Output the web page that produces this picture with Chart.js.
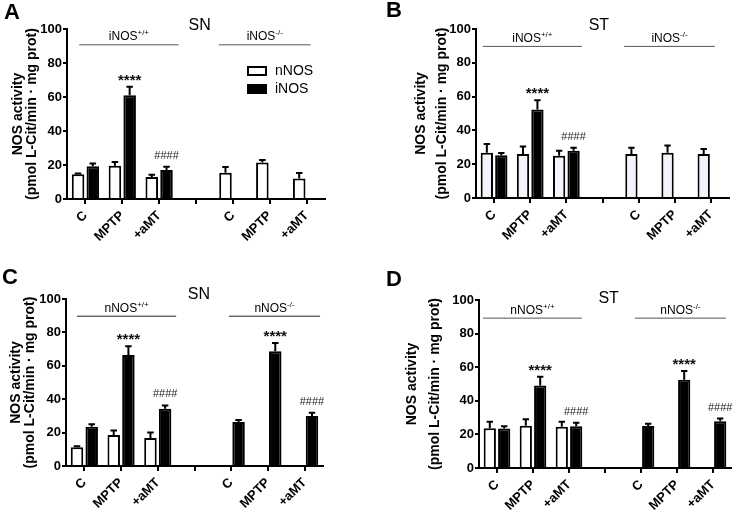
<!DOCTYPE html>
<html>
<head>
<meta charset="utf-8">
<script src="https://cdn.jsdelivr.net/npm/chart.js@4.4.0/dist/chart.umd.min.js"></script>
<style>
  body { margin: 0; background: #fff; }
  #grid { position: relative; width: 738px; height: 512px; }
  .panel { position: absolute; width: 369px; height: 256px; }
</style>
</head>
<body>
<div id="grid">
  <div class="panel" style="left:0;top:0"><canvas id="chartA"></canvas></div>
  <div class="panel" style="left:369px;top:0"><canvas id="chartB"></canvas></div>
  <div class="panel" style="left:0;top:256px"><canvas id="chartC"></canvas></div>
  <div class="panel" style="left:369px;top:256px"><canvas id="chartD"></canvas></div>
</div>
<script>
const CATEGORIES = ['C', 'MPTP', '+aMT', '', 'C', 'MPTP', '+aMT'];
const SERIES = ['nNOS', 'iNOS'];
const Y_TICKS = [0, 20, 40, 60, 80, 100];
const Y_TITLE = ['NOS activity', '(pmol L-Cit/min \u00b7 mg prot)'];

// A - SN, iNOS+/+ vs iNOS-/-
const A_NNOS = [14.5, 19.5, 13, null, 15.5, 21.5, 12];
const A_NNOS_SEM = [0.5, 2.3, 1.3, null, 3.3, 1.5, 3.3];
const A_INOS = [19.3, 61, 17, null, null, null, null];
const A_INOS_SEM = [1.6, 5, 2, null, null, null, null];
const A_MARKS = ['', '****', '####', '', '', '', ''];
const A_GROUPS = ['iNOS', 'iNOS'];

// B - ST, iNOS+/+ vs iNOS-/-
const B_NNOS = [26.8, 26, 25, null, 26, 26.8, 26];
const B_NNOS_SEM = [5.1, 4.5, 3, null, 3.7, 4.2, 3];
const B_INOS = [25.3, 52.3, 28, null, null, null, null];
const B_INOS_SEM = [1.4, 5.5, 1.7, null, null, null, null];
const B_MARKS = ['', '****', '####', '', '', '', ''];
const B_GROUPS = ['iNOS', 'iNOS'];

// C - SN, nNOS+/+ vs nNOS-/-
const C_NNOS = [11.2, 18.5, 16.7, null, null, null, null];
const C_NNOS_SEM = [0.6, 2.8, 3.3, null, null, null, null];
const C_INOS = [23.5, 66.5, 34.3, null, 26.3, 68.7, 30];
const C_INOS_SEM = [1.5, 5.2, 2, null, 1.2, 5, 1.9];
const C_MARKS = ['', '****', '####', '', '', '****', '####'];
const C_GROUPS = ['nNOS', 'nNOS'];

// D - ST, nNOS+/+ vs nNOS-/-
const D_NNOS = [23.7, 25.2, 24.5, null, null, null, null];
const D_NNOS_SEM = [3.9, 3.8, 3.1, null, null, null, null];
const D_INOS = [23.5, 49.1, 24.9, null, 25, 52.5, 27.8];
const D_INOS_SEM = [1.4, 5.2, 2.1, null, 1.4, 5.2, 1.6];
const D_MARKS = ['', '****', '####', '', '', '****', '####'];
const D_GROUPS = ['nNOS', 'nNOS'];

const GENOTYPES = ['+/+', '-/-'];
const FONT = '"Liberation Sans", Arial, Helvetica, sans-serif';

const PANELS = [
  { id: 'chartA', letter: 'A', region: 'SN', nnos: A_NNOS, nnosErr: A_NNOS_SEM, inos: A_INOS, inosErr: A_INOS_SEM,
    marks: A_MARKS, groups: A_GROUPS, legend: true, whiteFill: '#ffffff', lineColor: '#555',
    box: { yw: 67, xh: 57, top: 29, right: 44 }, titleLH: 14, titlePad: 11,
    spans: [[-0.17, 2.53], [3.62, 6.11]], lineVal: 91, letterPos: [4, 19], regionPos: [3.1, -3] },
  { id: 'chartB', letter: 'B', region: 'ST', nnos: B_NNOS, nnosErr: B_NNOS_SEM, inos: B_INOS, inosErr: B_INOS_SEM,
    marks: B_MARKS, groups: B_GROUPS, legend: false, whiteFill: '#f3f3fb', lineColor: '#555',
    box: { yw: 107, xh: 58, top: 29, right: 9 }, titleLH: 21, titlePad: 42,
    spans: [[-0.31, 2.43], [3.6, 6.11]], lineVal: 90, letterPos: [17, 17], regionPos: [2.9, -3] },
  { id: 'chartC', letter: 'C', region: 'SN', nnos: C_NNOS, nnosErr: C_NNOS_SEM, inos: C_INOS, inosErr: C_INOS_SEM,
    marks: C_MARKS, groups: C_GROUPS, legend: false, whiteFill: '#ffffff', lineColor: '#222',
    box: { yw: 66, xh: 46, top: 43, right: 46 }, titleLH: 14, titlePad: 9,
    spans: [[-0.2, 2.5], [3.94, 6.42]], lineVal: 90, letterPos: [2, 28], regionPos: [3.12, -4] },
  { id: 'chartD', letter: 'D', region: 'ST', nnos: D_NNOS, nnosErr: D_NNOS_SEM, inos: D_INOS, inosErr: D_INOS_SEM,
    marks: D_MARKS, groups: D_GROUPS, legend: false, whiteFill: '#ffffff', lineColor: '#555',
    box: { yw: 110, xh: 44, top: 44, right: 7 }, titleLH: 23, titlePad: 32,
    spans: [[-0.39, 2.36], [3.83, 6.36]], lineVal: 89.5, letterPos: [17, 30], regionPos: [3.1, -1] }
];

// error bars, significance marks, group lines, region title, legend, panel letter
const extras = {
  id: 'extras',
  afterDatasetsDraw(chart, args, opts) {
    const p = opts.panel;
    const ctx = chart.ctx;
    const xs = chart.scales.x, ys = chart.scales.y, area = chart.chartArea;
    const catW = (area.right - area.left) / CATEGORIES.length;
    const px = u => xs.getPixelForValue(0) + u * catW;
    ctx.save();

    // error bars (upper only)
    [[p.nnos, p.nnosErr], [p.inos, p.inosErr]].forEach(([vals, errs], d) => {
      const meta = chart.getDatasetMeta(d);
      meta.data.forEach((bar, i) => {
        if (vals[i] == null) return;
        const top = ys.getPixelForValue(vals[i] + errs[i]);
        const half = bar.width * 0.26;
        ctx.strokeStyle = '#000';
        ctx.lineWidth = 2;
        ctx.beginPath();
        ctx.moveTo(bar.x, bar.y);
        ctx.lineTo(bar.x, top);
        ctx.moveTo(bar.x - half, top);
        ctx.lineTo(bar.x + half, top);
        ctx.stroke();
      });
    });

    // significance marks above iNOS bars
    const inosMeta = chart.getDatasetMeta(1);
    p.marks.forEach((m, i) => {
      if (!m) return;
      const bar = inosMeta.data[i];
      const top = ys.getPixelForValue(p.inos[i] + p.inosErr[i]);
      ctx.textAlign = 'center';
      ctx.textBaseline = 'middle';
      if (m[0] === '*') {
        ctx.font = 'bold 15px ' + FONT;
        ctx.fillStyle = '#111';
        ctx.fillText(m, bar.x, top - 6);
      } else {
        ctx.font = '11px ' + FONT;
        ctx.fillStyle = '#222';
        ctx.fillText(m, bar.x, top - 11);
      }
    });

    // genotype group lines with labels
    const ly = ys.getPixelForValue(p.lineVal);
    p.spans.forEach((s, g) => {
      const x0 = px(s[0]), x1 = px(s[1]);
      ctx.strokeStyle = p.lineColor;
      ctx.lineWidth = 1;
      ctx.beginPath();
      ctx.moveTo(x0, ly + 0.5);
      ctx.lineTo(x1, ly + 0.5);
      ctx.stroke();
      ctx.font = '12px ' + FONT;
      const w1 = ctx.measureText(p.groups[g]).width;
      ctx.font = '8px ' + FONT;
      const w2 = ctx.measureText(GENOTYPES[g]).width;
      const sx = (x0 + x1) / 2 - (w1 + w2) / 2;
      ctx.fillStyle = '#000';
      ctx.textAlign = 'left';
      ctx.textBaseline = 'alphabetic';
      ctx.font = '12px ' + FONT;
      ctx.fillText(p.groups[g], sx, ly - 4);
      ctx.font = '8px ' + FONT;
      ctx.fillText(GENOTYPES[g], sx + w1, ly - 9);
    });

    // region title
    ctx.font = '16px ' + FONT;
    ctx.fillStyle = '#000';
    ctx.textAlign = 'center';
    ctx.textBaseline = 'middle';
    ctx.fillText(p.region, px(p.regionPos[0]), area.top + p.regionPos[1]);

    // legend
    if (p.legend) {
      const lx = area.right - 78;
      [[66, p.whiteFill], [84, '#000']].forEach(([by, fill], k) => {
        ctx.fillStyle = fill;
        ctx.fillRect(lx, by, 20, 10);
        ctx.strokeStyle = '#000';
        ctx.lineWidth = 2;
        ctx.strokeRect(lx + 1, by + 1, 18, 8);
        ctx.fillStyle = '#000';
        ctx.font = '14px ' + FONT;
        ctx.textAlign = 'left';
        ctx.textBaseline = 'middle';
        ctx.fillText(SERIES[k], lx + 28, by + 5);
      });
    }

    // panel letter
    ctx.font = 'bold 22px ' + FONT;
    ctx.fillStyle = '#000';
    ctx.textAlign = 'left';
    ctx.textBaseline = 'alphabetic';
    ctx.fillText(p.letter, p.letterPos[0], p.letterPos[1]);
    ctx.restore();
  }
};

PANELS.forEach(p => {
  new Chart(document.getElementById(p.id).getContext('2d'), {
    type: 'bar',
    data: {
      labels: CATEGORIES,
      datasets: [
        { label: SERIES[0], data: p.nnos, backgroundColor: p.whiteFill, borderColor: '#000', borderWidth: 2 },
        { label: SERIES[1], data: p.inos, backgroundColor: '#000', borderColor: '#000', borderWidth: 2 }
      ]
    },
    options: {
      responsive: true,
      maintainAspectRatio: false,
      animation: false,
      layout: { padding: { left: 0, top: p.box.top, right: p.box.right, bottom: 0 } },
      datasets: { bar: { categoryPercentage: 0.8, barPercentage: 0.85 } },
      scales: {
        x: {
          afterFit: s => { s.height = p.box.xh; },
          grid: { display: true, drawOnChartArea: false, offset: false, tickLength: 5, lineWidth: 2, color: '#000' },
          border: { display: true, width: 2, color: '#000' },
          ticks: { autoSkip: false, minRotation: 45, maxRotation: 45, padding: 4, color: '#000',
            font: { family: FONT, size: 13, weight: 'bold' } }
        },
        y: {
          min: 0, max: 100,
          afterFit: s => { s.width = p.box.yw; },
          afterBuildTicks: s => { s.ticks = Y_TICKS.map(v => ({ value: v })); },
          grid: { display: true, drawOnChartArea: false, tickLength: 4, lineWidth: 2, color: '#000' },
          border: { display: true, width: 2, color: '#000' },
          ticks: { padding: 1, color: '#000', font: { family: FONT, size: 13, weight: 'bold' } },
          title: { display: true, text: Y_TITLE, color: '#000', padding: { top: p.titlePad, bottom: 0 },
            font: { family: FONT, size: 14, weight: 'bold', lineHeight: p.titleLH + 'px' } }
        }
      },
      plugins: { legend: { display: false }, tooltip: { enabled: false }, extras: { panel: p } }
    },
    plugins: [extras]
  });
});
</script>
</body>
</html>
